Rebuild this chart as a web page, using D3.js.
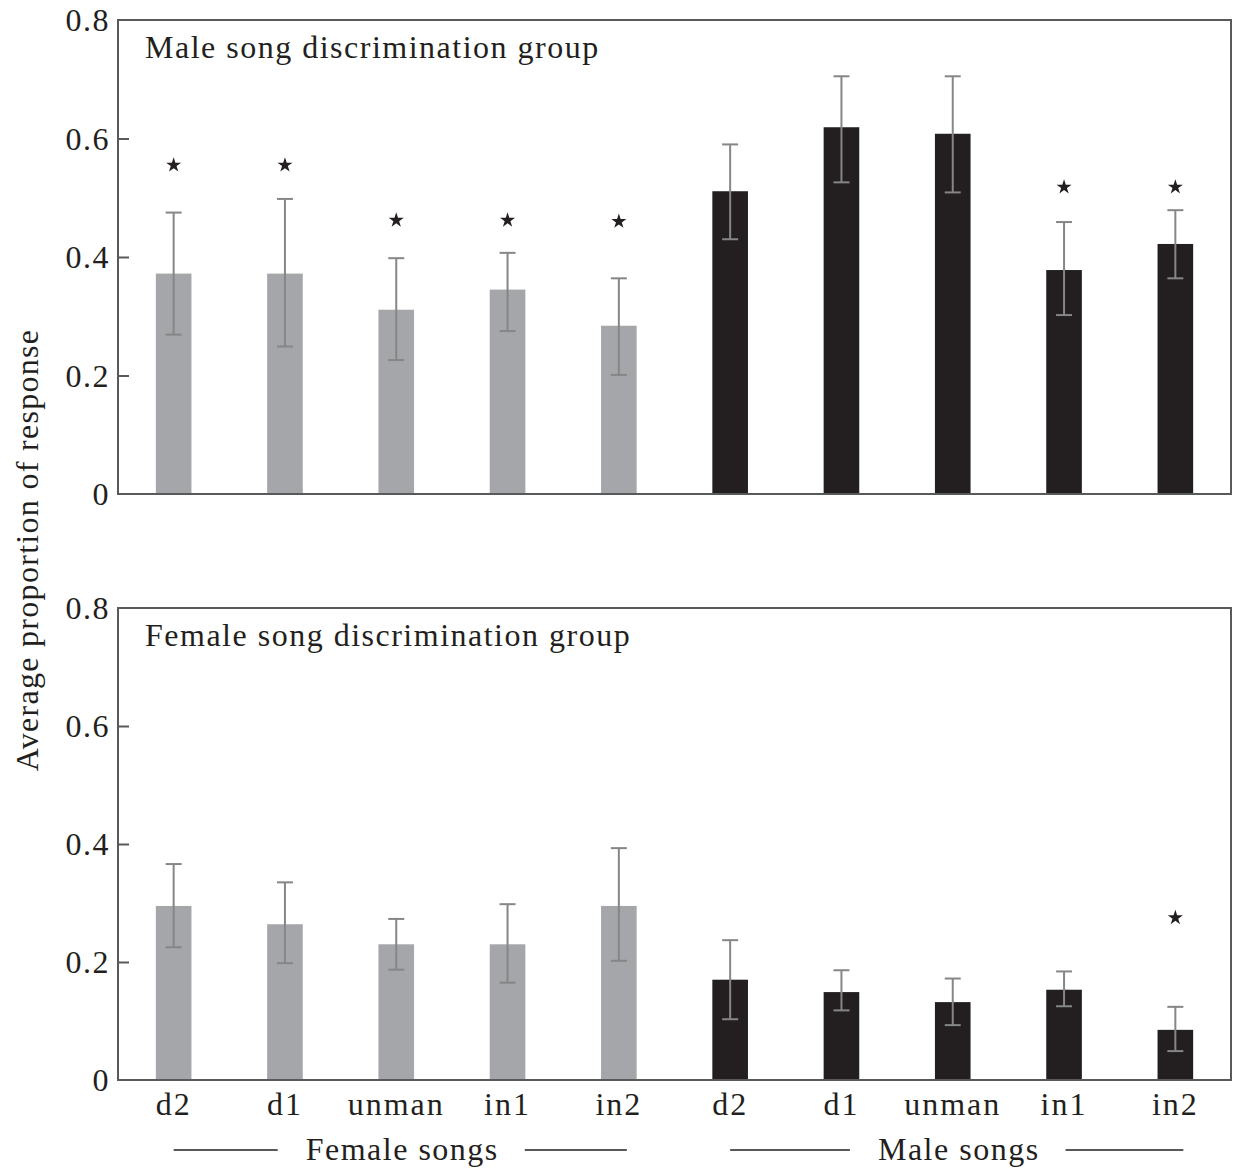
<!DOCTYPE html>
<html>
<head>
<meta charset="utf-8">
<script src="https://cdn.jsdelivr.net/npm/d3@7"></script>
<style>
  body { margin: 0; background: #fff; }
  svg text { font-family: "Liberation Serif", "DejaVu Serif", serif; fill: #231f20; }
</style>
</head>
<body>
<svg id="chart"></svg>
<script>
// song types, repeated for female and male songs
var categories = ['d2', 'd1', 'unman', 'in1', 'in2'];
var songGroups = ['Female songs', 'Male songs'];
var yTicks = [0, 0.2, 0.4, 0.6, 0.8];

// Male song discrimination group (first 5 = female songs, last 5 = male songs)
var maleMeans = [0.372, 0.372, 0.311, 0.345, 0.284, 0.511, 0.619, 0.608, 0.378, 0.422];
var maleLow   = [0.269, 0.249, 0.226, 0.275, 0.201, 0.430, 0.526, 0.509, 0.302, 0.364];
var maleHigh  = [0.475, 0.498, 0.398, 0.407, 0.364, 0.590, 0.705, 0.705, 0.459, 0.479];
var maleStars = [0.555, 0.555, 0.462, 0.462, 0.460, null, null, null, 0.518, 0.518];

// Female song discrimination group
var femaleMeans = [0.295, 0.264, 0.230, 0.230, 0.295, 0.170, 0.149, 0.132, 0.153, 0.085];
var femaleLow   = [0.225, 0.198, 0.187, 0.165, 0.202, 0.103, 0.118, 0.093, 0.125, 0.049];
var femaleHigh  = [0.366, 0.335, 0.273, 0.298, 0.393, 0.237, 0.186, 0.172, 0.184, 0.124];
var femaleStars = [null, null, null, null, null, null, null, null, null, 0.275];

var width = 1238, height = 1168,
	left = 118, right = 1231,
	grey = '#a5a6a9', dark = '#231f20', errColor = '#868686', axisColor = '#58595b';

var svg = d3.select('svg#chart').attr('width', width).attr('height', height);

var keys = [];
songGroups.forEach(function(g, gi) {
	categories.forEach(function(c) { keys.push(gi + '-' + c); });
});

var x = d3.scaleBand().domain(keys).range([left, right]).paddingInner(0.68).paddingOuter(0.34);

function makePanel(top, bottom, title, means, low, high, stars) {
	var y = d3.scaleLinear().domain([0, 0.8]).range([bottom, top]);
	var g = svg.append('g');

	var rows = means.map(function(m, i) {
		return { key: keys[i], female: i < 5, mean: m, low: low[i], high: high[i], star: stars[i] };
	});

	g.selectAll('rect.bar').data(rows).enter().append('rect')
		.attr('class', 'bar')
		.attr('x', function(d) { return x(d.key); })
		.attr('y', function(d) { return y(d.mean); })
		.attr('width', x.bandwidth())
		.attr('height', function(d) { return y(0) - y(d.mean); })
		.attr('fill', function(d) { return d.female ? grey : dark; });

	var err = g.selectAll('g.err').data(rows).enter().append('g')
		.attr('class', 'err')
		.attr('transform', function(d) { return 'translate(' + (x(d.key) + x.bandwidth() / 2) + ',0)'; })
		.attr('stroke', errColor).attr('stroke-width', 2);
	err.append('line')
		.attr('y1', function(d) { return y(d.low); })
		.attr('y2', function(d) { return y(d.high); });
	err.append('line').attr('x1', -8).attr('x2', 8)
		.attr('y1', function(d) { return y(d.low); })
		.attr('y2', function(d) { return y(d.low); });
	err.append('line').attr('x1', -8).attr('x2', 8)
		.attr('y1', function(d) { return y(d.high); })
		.attr('y2', function(d) { return y(d.high); });

	g.selectAll('path.star').data(rows.filter(function(d) { return d.star != null; })).enter()
		.append('path')
		.attr('class', 'star')
		.attr('d', d3.symbol(d3.symbolStar).size(70))
		.attr('fill', dark)
		.attr('transform', function(d) { return 'translate(' + (x(d.key) + x.bandwidth() / 2) + ',' + y(d.star) + ')'; });

	// frame
	g.append('rect')
		.attr('x', left).attr('y', top)
		.attr('width', right - left).attr('height', bottom - top)
		.attr('fill', 'none').attr('stroke', axisColor).attr('stroke-width', 2);

	var axis = g.append('g')
		.attr('transform', 'translate(' + left + ',0)')
		.call(d3.axisLeft(y).tickValues(yTicks).tickSize(-11).tickPadding(8)
			.tickFormat(function(d) { return d === 0 ? '0' : d3.format('.1f')(d); }));
	axis.select('.domain').remove();
	axis.selectAll('.tick line').attr('stroke', axisColor).attr('stroke-width', 2)
		.filter(function(d) { return d === 0 || d === 0.8; }).remove();
	axis.selectAll('.tick text').attr('font-size', 32).attr('font-family', '"Liberation Serif", serif')
		.attr('letter-spacing', 1.5).attr('fill', dark).attr('dy', '0.34em');

	g.append('text')
		.attr('x', 145).attr('y', top + 38)
		.attr('font-size', 32)
		.attr('letter-spacing', 1.5)
		.text(title);

	return y;
}

makePanel(20, 494, 'Male song discrimination group', maleMeans, maleLow, maleHigh, maleStars);
makePanel(608, 1080, 'Female song discrimination group', femaleMeans, femaleLow, femaleHigh, femaleStars);

// category labels under the bottom panel
svg.append('g').selectAll('text').data(keys).enter().append('text')
	.attr('x', function(d) { return x(d) + x.bandwidth() / 2; })
	.attr('y', 1115)
	.attr('text-anchor', 'middle')
	.attr('font-size', 32)
	.attr('letter-spacing', 2)
	.text(function(d) { return d.split('-')[1]; });

// group labels with rules on both sides
songGroups.forEach(function(name, gi) {
	var first = x(gi + '-' + categories[0]) + x.bandwidth() / 2,
		last = x(gi + '-' + categories[categories.length - 1]) + x.bandwidth() / 2 + 8,
		mid = (first + last) / 2 + 2;
	var t = svg.append('text')
		.attr('x', mid).attr('y', 1160)
		.attr('text-anchor', 'middle')
		.attr('font-size', 32)
		.attr('letter-spacing', 1.5)
		.text(name);
	var w = t.node().getComputedTextLength();
	svg.append('line').attr('x1', first).attr('x2', mid - w / 2 - 28)
		.attr('y1', 1150).attr('y2', 1150).attr('stroke', dark).attr('stroke-width', 1.5);
	svg.append('line').attr('x1', mid + w / 2 + 26).attr('x2', last)
		.attr('y1', 1150).attr('y2', 1150).attr('stroke', dark).attr('stroke-width', 1.5);
});

svg.append('text')
	.attr('transform', 'translate(38,550) rotate(-90)')
	.attr('text-anchor', 'middle')
	.attr('font-size', 32)
	.attr('letter-spacing', 1.3)
	.text('Average proportion of response');
</script>
</body>
</html>
